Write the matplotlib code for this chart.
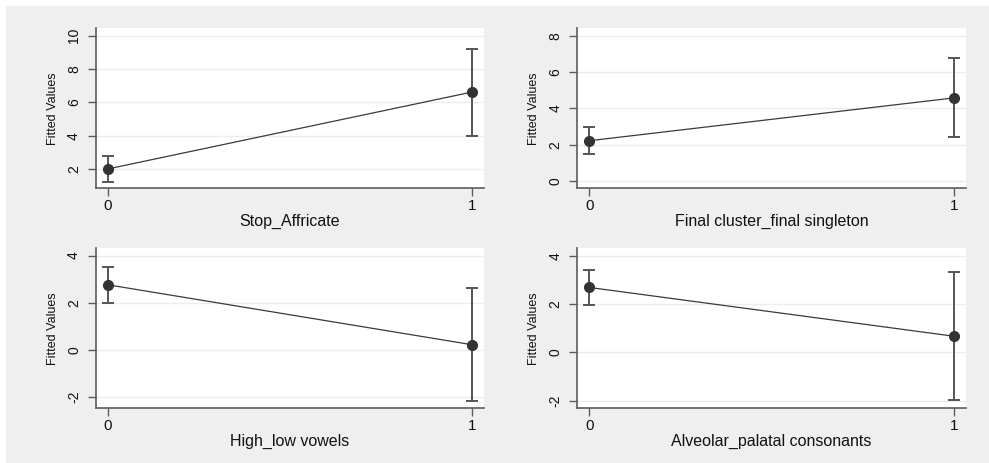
import numpy as np
import matplotlib
matplotlib.use("Agg")
import matplotlib.pyplot as plt
from matplotlib.patches import Rectangle

plt.rcParams['axes.unicode_minus'] = False
plt.rcParams['font.family'] = ['Liberation Sans', 'DejaVu Sans']

# fitted values with confidence intervals, one panel per contrast
x_vals = [0, 1]
xlabels = ["Stop_Affricate", "Final cluster_final singleton",
           "High_low vowels", "Alveolar_palatal consonants"]
fitted = [[2.0, 6.62], [2.22, 4.58], [2.76, 0.21], [2.69, 0.67]]
ci_low = [[1.24, 4.0], [1.49, 2.43], [2.0, -2.2], [1.96, -1.97]]
ci_high = [[2.76, 9.22], [2.95, 6.78], [3.5, 2.63], [3.42, 3.35]]
yticks = [[2, 4, 6, 8, 10], [0, 2, 4, 6, 8], [-2, 0, 2, 4], [-2, 0, 2, 4]]
ylims = [(0.84, 10.44), (-0.40, 8.41), (-2.49, 4.31), (-2.31, 4.31)]

W, H = 989, 463
fig = plt.figure(figsize=(W / 100, H / 100), dpi=100, facecolor='white')
bg = Rectangle((6 / W, 0), 1, (H - 6) / H, transform=fig.transFigure,
               facecolor='#efefef', edgecolor='none', zorder=-10)
fig.add_artist(bg)

# axes boxes in pixels: left, top, right, bottom
boxes = [(95.7, 28.3, 484, 188.3), (577.3, 28.3, 966, 188.3),
         (95.7, 248.3, 484, 408.3), (577.3, 248.3, 966, 408.3)]

spine_c = '#5c5c5c'
narrow = ['Liberation Sans Narrow', 'Liberation Sans', 'DejaVu Sans']

for i, (l, t, r, b) in enumerate(boxes):
    ax = fig.add_axes([l / W, 1 - b / H, (r - l) / W, (b - t) / H])
    ax.set_facecolor('white')
    est = np.array(fitted[i])
    lo = np.array(ci_low[i])
    hi = np.array(ci_high[i])
    ax.errorbar(x_vals, est, yerr=[est - lo, hi - est], fmt='none',
                ecolor='#555555', elinewidth=1.4, capsize=4, capthick=1.4, zorder=3)
    ax.plot(x_vals, est, color='#3a3a3a', lw=0.9, zorder=4)
    ax.plot(x_vals, est, 'o', color='#333333', ms=7, zorder=5)

    ax.set_xlim(-0.033, 1.032)
    ax.set_ylim(*ylims[i])
    ax.set_xticks(x_vals)
    ax.set_xticklabels(['0', '1'], fontsize=11)
    ax.set_yticks(yticks[i])
    ax.set_yticklabels([str(v) for v in yticks[i]], rotation=90, va='center',
                       family=narrow, fontsize=10)
    ax.grid(axis='y', color='#ededed', lw=1.0, zorder=0)
    ax.set_axisbelow(True)
    for s in ['top', 'right']:
        ax.spines[s].set_visible(False)
    for s in ['left', 'bottom']:
        ax.spines[s].set_color(spine_c)
        ax.spines[s].set_linewidth(1.2)
    ax.tick_params(axis='both', direction='out', length=5.5, width=1.0,
                   color=spine_c, labelcolor='#111111')
    ax.tick_params(axis='y', pad=5)
    ax.tick_params(axis='x', pad=2)
    ax.set_xlabel(xlabels[i], fontsize=11.5, labelpad=1, color='#111111')
    ax.set_ylabel('Fitted Values', family=narrow, fontsize=9, labelpad=6,
                  color='#111111')

fig.savefig('out.png', dpi=100, facecolor='white')
